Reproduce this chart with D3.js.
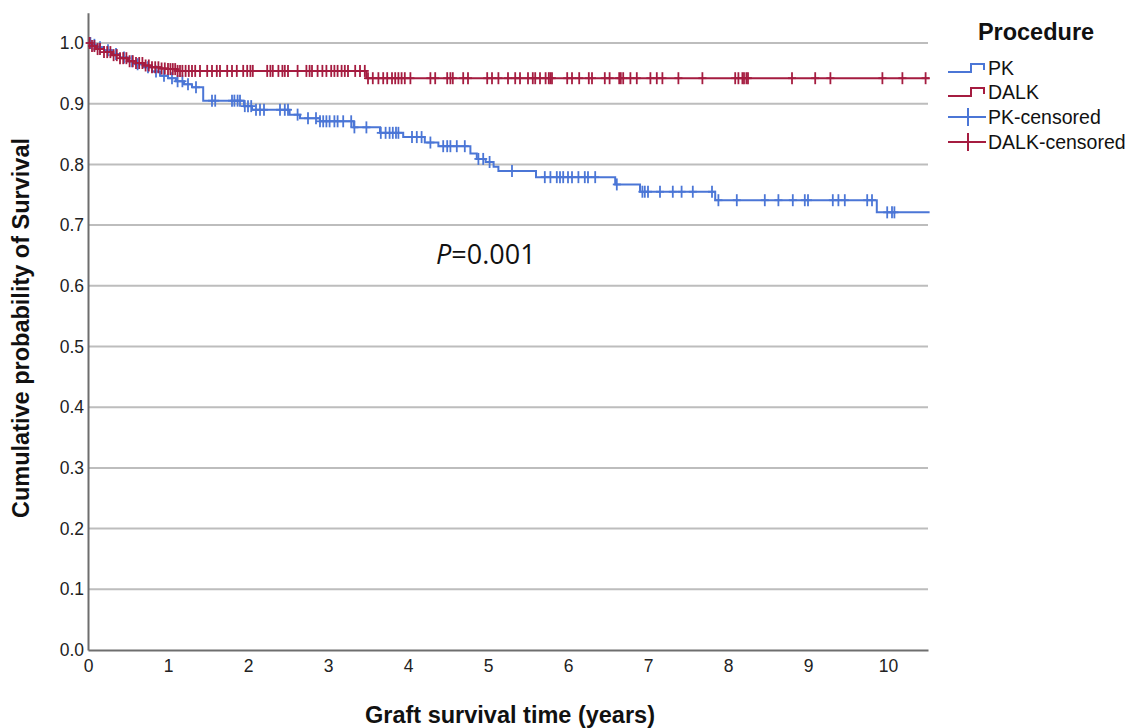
<!DOCTYPE html>
<html>
<head>
<meta charset="utf-8">
<script src="https://cdn.jsdelivr.net/npm/d3@7"></script>
<style>
  html, body { margin: 0; padding: 0; background: #ffffff; }
  svg { display: block; }
  text { font-family: "Liberation Sans", Arial, sans-serif; }
</style>
</head>
<body>
<script>
// ---------------- DATA ----------------
const xTicks = [0, 1, 2, 3, 4, 5, 6, 7, 8, 9, 10];
const yTicks = [0.0, 0.1, 0.2, 0.3, 0.4, 0.5, 0.6, 0.7, 0.8, 0.9, 1.0];

// PK Kaplan-Meier step points (time in years, cumulative survival)
const pkTimes = [0, 0.05, 0.1, 0.2, 0.3, 0.4, 0.5, 0.6, 0.7, 0.8, 0.9, 1.0, 1.1, 1.2, 1.3, 1.44,
  1.95, 2.05, 2.52, 2.65, 2.9, 3.32, 3.65, 3.94, 4.21, 4.38, 4.78, 4.86, 4.97, 5.07, 5.13,
  5.6, 6.59, 6.9, 7.84, 9.86, 10.52];
const pkSurv = [1.0, 0.997, 0.993, 0.988, 0.982, 0.976, 0.970, 0.965, 0.960, 0.953, 0.946, 0.942, 0.937, 0.932, 0.927, 0.905,
  0.896, 0.890, 0.882, 0.876, 0.871, 0.861, 0.852, 0.845, 0.836, 0.830, 0.818, 0.809, 0.804, 0.796, 0.789,
  0.779, 0.767, 0.755, 0.741, 0.721, 0.721];
const pkCensored = [0.03, 0.08, 0.15, 0.25, 0.35, 0.45, 0.55, 0.62, 0.75, 0.85, 0.95, 1.05, 1.12, 1.18, 1.25, 1.35,
  1.55, 1.59, 1.8, 1.83, 1.87, 1.9, 1.96, 2.0, 2.04, 2.1, 2.15, 2.2, 2.4, 2.46, 2.5, 2.62,
  2.75, 2.85, 2.9, 2.94, 2.98, 3.02, 3.08, 3.12, 3.19, 3.29, 3.33, 3.48, 3.66, 3.72, 3.77, 3.81, 3.85, 3.88,
  4.05, 4.11, 4.17, 4.28, 4.44, 4.49, 4.53, 4.61, 4.71, 4.88, 4.94, 5.02, 5.3,
  5.71, 5.78, 5.86, 5.9, 5.94, 6.0, 6.05, 6.13, 6.21, 6.25, 6.34, 6.61,
  6.93, 6.96, 7.0, 7.15, 7.31, 7.42, 7.56, 7.8, 7.88, 8.11,
  8.46, 8.63, 8.81, 8.96, 9.0, 9.31, 9.38, 9.46, 9.74, 9.8, 9.99, 10.05, 10.08];

// DALK Kaplan-Meier step points
const dalkTimes = [0, 0.05, 0.1, 0.2, 0.3, 0.4, 0.5, 0.6, 0.7, 0.8, 0.9, 1.0, 1.1, 3.48, 10.52];
const dalkSurv = [1.0, 0.995, 0.990, 0.985, 0.980, 0.975, 0.970, 0.967, 0.963, 0.960, 0.958, 0.957, 0.954, 0.942, 0.942];
const dalkCensored = [0.02, 0.05, 0.08, 0.12, 0.15, 0.2, 0.24, 0.28, 0.32, 0.36, 0.4, 0.44, 0.48, 0.52, 0.56, 0.6,
  0.64, 0.68, 0.72, 0.76, 0.8, 0.84, 0.88, 0.92, 0.96, 1.0, 1.03, 1.06, 1.09, 1.12, 1.15, 1.18, 1.22, 1.26, 1.3, 1.34,
  1.4, 1.49, 1.55, 1.61, 1.65, 1.74, 1.8, 1.86, 1.94, 1.99, 2.03, 2.06, 2.24, 2.28, 2.31, 2.38,
  2.43, 2.46, 2.5, 2.62, 2.73, 2.77, 2.8, 2.87, 2.93, 2.98, 3.04, 3.08, 3.12, 3.17, 3.21, 3.25, 3.34, 3.4, 3.46, 3.5,
  3.56, 3.63, 3.69, 3.74, 3.8, 3.84, 3.88, 3.92, 3.96, 4.03, 4.28, 4.34, 4.49, 4.53, 4.56, 4.69, 4.75,
  4.99, 5.05, 5.13, 5.25, 5.34, 5.4, 5.5, 5.56, 5.59, 5.65, 5.72, 5.76, 5.78, 5.8,
  5.99, 6.05, 6.14, 6.26, 6.3, 6.46, 6.52, 6.64, 6.66, 6.69, 6.78, 6.86, 7.03, 7.11, 7.18, 7.38, 7.68,
  8.09, 8.13, 8.18, 8.2, 8.23, 8.25, 8.8, 9.09, 9.28, 9.93, 10.18, 10.47];

const legendLabels = ["PK", "DALK", "PK-censored", "DALK-censored"];

// ---------------- CHART ----------------
const W = 1130, H = 728;
const pkColor = "#4b76d6";
const dalkColor = "#a51c40";

const svg = d3.select("body").append("svg").attr("width", W).attr("height", H);

const x = d3.scaleLinear().domain([0, 10.5]).range([88, 928]);
const y = d3.scaleLinear().domain([0, 1.05]).range([650, 12.65]);

// gridlines
svg.append("g").selectAll("line").data(yTicks.filter(d => d > 0)).join("line")
  .attr("x1", x(0)).attr("x2", x(10.5))
  .attr("y1", d => y(d)).attr("y2", d => y(d))
  .attr("stroke", "#bdbdbd").attr("stroke-width", 2);

// axes
const yAxis = d3.axisLeft(y).tickValues(yTicks).tickFormat(d3.format(".1f")).tickSize(0).tickPadding(4);
const gy = svg.append("g").attr("transform", `translate(${x(0)},0)`).call(yAxis);
gy.select(".domain").attr("stroke", "#6e6e6e").attr("stroke-width", 2);
gy.selectAll("text").attr("font-size", 17.5).attr("fill", "#222")
  .style("font-family", "'Liberation Sans', Arial, sans-serif");

const xAxis = d3.axisBottom(x).tickValues(xTicks).tickFormat(d3.format("d")).tickSize(0).tickPadding(10);
const gx = svg.append("g").attr("transform", `translate(0,${y(0)})`).call(xAxis);
gx.select(".domain").attr("stroke", "#6e6e6e").attr("stroke-width", 2);
gx.selectAll("text").attr("font-size", 17.5).attr("fill", "#222")
  .style("font-family", "'Liberation Sans', Arial, sans-serif");

// step function lookup
function stepValue(times, surv, t) {
  let v = surv[0];
  for (let i = 0; i < times.length; i++) { if (times[i] <= t) v = surv[i]; else break; }
  return v;
}

const line = d3.line().x(d => x(d[0])).y(d => y(d[1])).curve(d3.curveStepAfter);

function drawSeries(times, surv, censored, color) {
  const pts = times.map((t, i) => [t, surv[i]]);
  svg.append("path").datum(pts).attr("d", line)
    .attr("fill", "none").attr("stroke", color).attr("stroke-width", 2);
  const g = svg.append("g").attr("stroke", color).attr("stroke-width", 1.8);
  g.selectAll("line.v").data(censored).join("line").attr("class", "v")
    .attr("x1", d => x(d)).attr("x2", d => x(d))
    .attr("y1", d => y(stepValue(times, surv, d)) - 6)
    .attr("y2", d => y(stepValue(times, surv, d)) + 6);
  g.selectAll("line.h").data(censored).join("line").attr("class", "h")
    .attr("x1", d => x(d) - 4).attr("x2", d => x(d) + 4)
    .attr("y1", d => y(stepValue(times, surv, d)))
    .attr("y2", d => y(stepValue(times, surv, d)));
}

drawSeries(pkTimes, pkSurv, pkCensored, pkColor);
drawSeries(dalkTimes, dalkSurv, dalkCensored, dalkColor);

// P value annotation
const pt = svg.append("text").attr("x", 436).attr("y", 264)
  .attr("font-size", 27).attr("fill", "#111")
  .style("font-family", "'Open Sans', 'Liberation Sans', sans-serif");
pt.append("tspan").attr("font-style", "italic").text("P");
pt.append("tspan").text("=0.001");

// axis titles
svg.append("text").attr("x", 510).attr("y", 723).attr("text-anchor", "middle")
  .attr("font-size", 23.5).attr("font-weight", "bold").attr("fill", "#111")
  .text("Graft survival time (years)");
svg.append("text").attr("transform", "translate(29,328) rotate(-90)").attr("text-anchor", "middle")
  .attr("font-size", 23.5).attr("font-weight", "bold").attr("fill", "#111")
  .text("Cumulative probability of Survival");

// legend
const lg = svg.append("g");
lg.append("text").attr("x", 1036).attr("y", 40).attr("text-anchor", "middle")
  .attr("font-size", 23.5).attr("font-weight", "bold").attr("fill", "#111").text("Procedure");
const legendColors = [pkColor, dalkColor, pkColor, dalkColor];
const legendY = [68, 92, 117, 142];
legendLabels.forEach((lab, i) => {
  const cy = legendY[i];
  const c = legendColors[i];
  if (i < 2) {
    lg.append("path").attr("d", `M948,${cy + 4} H971 V${cy - 4} H984 V${cy + 2}`)
      .attr("fill", "none").attr("stroke", c).attr("stroke-width", 2);
  } else {
    lg.append("line").attr("x1", 948).attr("x2", 986).attr("y1", cy).attr("y2", cy)
      .attr("stroke", c).attr("stroke-width", 2);
    lg.append("line").attr("x1", 968).attr("x2", 968).attr("y1", cy - 9).attr("y2", cy + 9)
      .attr("stroke", c).attr("stroke-width", 2);
  }
  lg.append("text").attr("x", 988).attr("y", cy + 7).attr("font-size", 19.5).attr("fill", "#111").text(lab);
});
</script>
</body>
</html>
